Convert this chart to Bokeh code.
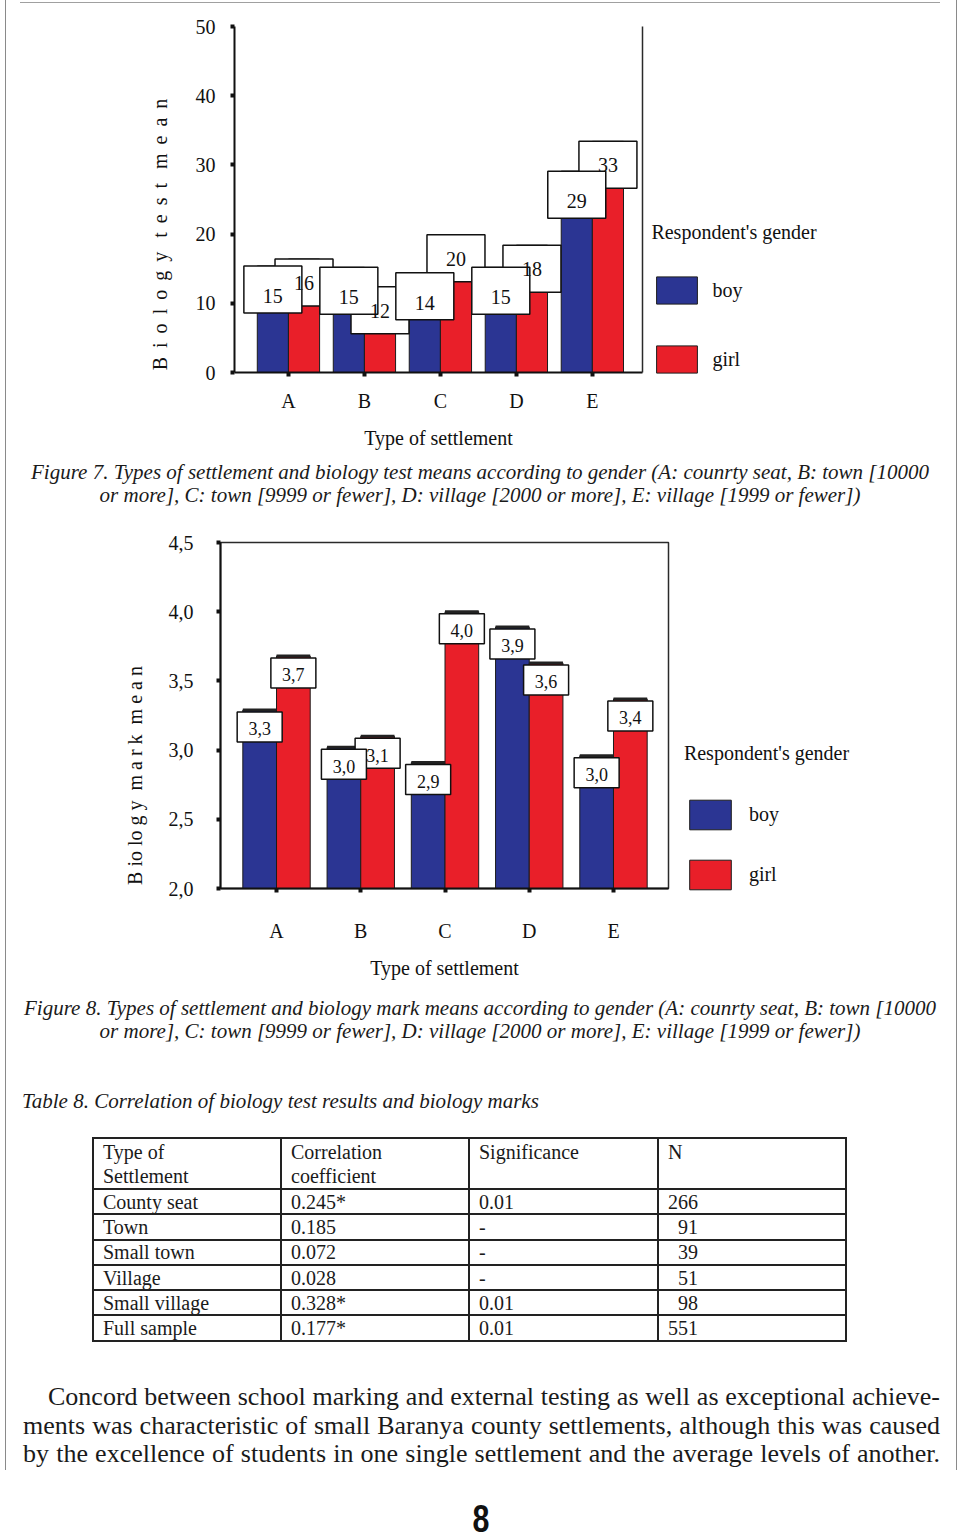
import numpy as np
from bokeh.plotting import figure
from bokeh.models import (Range1d, FixedTicker, CustomJSTickFormatter, LinearAxis,
                          Legend, LegendItem, Div, GlobalInlineStyleSheet)
from bokeh.embed import file_html
from bokeh.resources import INLINE
from bokeh.core.properties import value

# ---------------- data ----------------
categories = ["A", "B", "C", "D", "E"]
test_boy = [15.4, 15.2, 14.4, 15.2, 29.1]
test_girl = [16.4, 12.4, 19.9, 18.4, 33.4]
test_ticks = [0, 10, 20, 30, 40, 50]
mark_boy = [3.29, 3.02, 2.91, 3.89, 2.96]
mark_girl = [3.68, 3.10, 4.00, 3.63, 3.37]
mark_ticks = [2.0, 2.5, 3.0, 3.5, 4.0, 4.5]
series_names = ["boy", "girl"]

table_header = ["Type of<br>Settlement", "Correlation<br>coefficient", "Significance", "N"]
table_settlement = ["County seat", "Town", "Small town", "Village", "Small village", "Full sample"]
table_corr = ["0.245*", "0.185", "0.072", "0.028", "0.328*", "0.177*"]
table_sig = ["0.01", "-", "-", "-", "0.01", "0.01"]
table_n = [266, 91, 39, 51, 98, 551]

caption7 = ["Figure 7. Types of settlement and biology test means according to gender (A: counrty seat, B: town [10000",
            "or more], C: town [9999 or fewer], D: village [2000 or more], E: village [1999 or fewer])"]
caption8 = ["Figure 8. Types of settlement and biology mark means according to gender (A: counrty seat, B: town [10000",
            "or more], C: town [9999 or fewer], D: village [2000 or more], E: village [1999 or fewer])"]
table_caption = "Table 8. Correlation of biology test results and biology marks"
body_lines = ["Concord between school marking and external testing as well as exceptional achieve-",
              "ments was characteristic of small Baranya county settlements, although this was caused",
              "by the excellence of students in one single settlement and the average levels of another."]
page_number = "8"

# ---------------- style ----------------
BLUE = "#2B3593"
RED = "#E91F29"
EDGE = "#1c1c1c"
SERIF = "Liberation Serif"
NB = "\u00a0"
TS = "\u2009"

page_css = GlobalInlineStyleSheet(css=(
    "body { background: "
    "linear-gradient(#8a8a8a,#8a8a8a) 5px 0px / 1px 1470px no-repeat, "
    "linear-gradient(#8a8a8a,#8a8a8a) 956px 0px / 1px 1470px no-repeat, "
    "linear-gradient(#a0a0a0,#a0a0a0) 20px 2px / 920px 1px no-repeat, #ffffff; }"))


def make_chart(boy, girl, yticks, ylo, yhi, fmt_code, ylabel, *, fw, fh,
               bl, bt, bb, xlo, xhi, barw, box_w, box_h, box_gap, text_dy,
               box_font, cap, outline, legend_dx, legend_loc, glyph_w, glyph_h,
               title_standoff, spacing, label_standoff, tick_std, xlab_std,
               ytick_std, ylab_std, texts_last):
    p = figure(frame_width=fw, frame_height=fh, output_backend="svg", toolbar_location=None,
               x_range=Range1d(xlo, xhi), y_range=Range1d(ylo, yhi),
               min_border_left=bl, min_border_right=0, min_border_top=bt,
               min_border_bottom=bb, background_fill_color="white",
               border_fill_alpha=0)
    p.xgrid.grid_line_color = None
    p.ygrid.grid_line_color = None
    if outline:
        p.outline_line_color = "#2a2a2a"
        p.outline_line_width = 1.5
    else:
        p.outline_line_color = None

    ppx = fw / (xhi - xlo)
    ppy = fh / (yhi - ylo)

    idx = np.arange(len(categories), dtype=float)
    xb = idx - barw / 2
    xg = idx + barw / 2
    rb = p.vbar(x=xb, top=boy, bottom=ylo, width=barw, fill_color=BLUE,
                line_color=EDGE, line_width=1)
    rg = p.vbar(x=xg, top=girl, bottom=ylo, width=barw, fill_color=RED,
                line_color=EDGE, line_width=1)
    if cap:
        for xs, vals in ((xb, boy), (xg, girl)):
            p.segment(x0=xs - barw / 2, x1=xs + barw / 2, y0=vals, y1=vals,
                      line_color="#222222", line_width=3)

    bw = box_w / ppx
    bh = box_h / ppy
    gap = box_gap / ppy
    pending = []
    for (xs, vals), dy in zip(((xg, girl), (xb, boy)), (text_dy[1], text_dy[0])):
        vals = np.asarray(vals, dtype=float)
        tops = vals - gap
        p.quad(left=xs - bw / 2, right=xs + bw / 2, top=tops, bottom=tops - bh,
               fill_color="white", line_color="#111111", line_width=1.5)
        if fmt_code == "int":
            labs = [f"{v:.0f}" for v in vals]
        else:
            labs = [f"{v:.1f}".replace(".", ",") for v in vals]
        args = dict(x=xs, y=tops - dy / ppy, text=labs)
        if texts_last:
            pending.append(args)
        else:
            p.text(text_align="center", text_baseline="middle", text_font=value(SERIF),
                   text_font_size=box_font, text_color="#111111", **args)
    for args in pending:
        p.text(text_align="center", text_baseline="middle", text_font=value(SERIF),
               text_font_size=box_font, text_color="#111111", **args)

    # axes
    xa = p.xaxis[0]
    xa.ticker = FixedTicker(ticks=list(range(len(categories))))
    xa.formatter = CustomJSTickFormatter(args=dict(cats=categories),
                                         code="return cats[Math.round(tick)] || ''")
    ya = p.yaxis[0]
    ya.ticker = FixedTicker(ticks=yticks)
    if fmt_code == "int":
        ya.formatter = CustomJSTickFormatter(code="return tick.toFixed(0)")
    else:
        ya.formatter = CustomJSTickFormatter(code="return tick.toFixed(1).replace('.', ',')")
    for ax in (xa, ya):
        ax.axis_line_width = 2
        ax.axis_line_color = "#111111"
        ax.major_tick_in = 0
        ax.major_tick_out = 4
        ax.major_tick_line_width = 4
        ax.major_tick_line_color = "#111111"
        ax.minor_tick_line_color = None
        ax.major_label_text_font = SERIF
        ax.major_label_text_font_size = "20px"
        ax.major_label_text_color = "#111111"
        ax.axis_label_text_font = SERIF
        ax.axis_label_text_font_size = "20px"
        ax.axis_label_text_font_style = "normal"
        ax.axis_label_text_color = "#111111"
    xa.axis_label = "Type of settlement"
    xa.major_label_standoff = tick_std
    xa.axis_label_standoff = xlab_std
    ya.axis_label = ylabel
    ya.major_label_standoff = ytick_std
    ya.axis_label_standoff = ylab_std

    ra = LinearAxis(ticker=FixedTicker(ticks=[]), major_label_text_font_size="0px",
                    major_label_standoff=0,
                    major_tick_line_color=None, minor_tick_line_color=None,
                    major_tick_in=0, major_tick_out=legend_dx,
                    axis_line_width=1.5,
                    axis_line_color=None if outline else "#2a2a2a")
    p.add_layout(ra, "right")

    legend = Legend(items=[LegendItem(label=series_names[0], renderers=[rb]),
                           LegendItem(label=series_names[1], renderers=[rg])],
                    title="Respondent's gender", location=legend_loc,
                    title_text_font=SERIF, title_text_font_size="20px",
                    title_text_font_style="normal", title_text_color="#111111",
                    title_standoff=title_standoff,
                    label_text_font=SERIF, label_text_font_size="20px",
                    label_text_color="#111111",
                    glyph_width=glyph_w, glyph_height=glyph_h,
                    label_standoff=label_standoff, spacing=spacing,
                    label_height=glyph_h,
                    padding=0, margin=0, border_line_color=None,
                    background_fill_alpha=0)
    p.add_layout(legend, "right")
    return p


def spaced(word, sep):
    return sep.join(word)


gap1 = NB + TS
ylabel1 = (spaced("Biology", gap1) + NB * 2 + TS + spaced("test", gap1) + NB * 2 + TS
           + spaced("mean", gap1) + NB * 14)
ylabel2 = "B" + NB + "io" + NB + "lo" + NB + "g" + NB + "y" + NB * 2 + spaced("mark", NB) + NB * 2 + spaced("mean", NB) + NB * 24

p1 = make_chart(test_boy, test_girl, test_ticks, 0, 50, "int", ylabel1,
                fw=408, fh=346, bl=234, bt=26, bb=83,
                xlo=-0.71, xhi=4.66, barw=0.41, box_w=58, box_h=47, box_gap=0,
                text_dy=(30, 24), box_font="20px", cap=False, outline=False,
                legend_dx=10, legend_loc=(-178, -4), glyph_w=51, glyph_h=34,
                title_standoff=29, spacing=35, label_standoff=10, tick_std=13,
                xlab_std=12, ytick_std=15, ylab_std=22, texts_last=True)
p1.stylesheets = [page_css]

cap1_html = (f'<div style="width:960px;height:63px;padding-top:6px;box-sizing:border-box;'
             f'text-align:center;font-family:\'{SERIF}\',serif;font-style:italic;'
             f'font-size:21px;line-height:23px;color:#1a1a1a;white-space:nowrap;">'
             + "<br>".join(caption7) + '</div>')
cap1 = Div(text=cap1_html, width=960, height=63, margin=0)

p2 = make_chart(mark_boy, mark_girl, mark_ticks, 2.0, 4.5, "dec", ylabel2,
                fw=448, fh=346, bl=220, bt=24, bb=102,
                xlo=-0.665, xhi=4.653, barw=0.40, box_w=45, box_h=30, box_gap=2,
                text_dy=(17, 17), box_font="18px", cap=True, outline=True,
                legend_dx=16, legend_loc=(-173, -5), glyph_w=52, glyph_h=37,
                title_standoff=31, spacing=23, label_standoff=13, tick_std=27,
                xlab_std=12, ytick_std=23, ylab_std=20, texts_last=False)

# ---------------- table + text ----------------
cell = "border:2px solid #222;padding:0 0 0 9px;text-align:left;overflow:hidden;white-space:nowrap;"
rows_html = "<tr style='height:50px'>" + "".join(
    f"<td style='{cell}vertical-align:top;line-height:24px;padding-top:1px'>{h}</td>" for h in table_header) + "</tr>"
for s, c, g, n in zip(table_settlement, table_corr, table_sig, table_n):
    ntxt = f"{n:>3d}".replace(" ", "\u2007")
    rows_html += "<tr style='height:25.3px'>" + "".join(
        f"<td style='{cell}vertical-align:middle;line-height:22px'>{t}</td>" for t in (s, c, g, ntxt)) + "</tr>"

table_html = (f"<table style='position:absolute;left:92px;top:147px;width:753px;table-layout:fixed;"
              f"border-collapse:collapse;font-size:20px;color:#1a1a1a;background:#fff'>"
              f"<colgroup><col style='width:188px'><col style='width:188px'><col style='width:189px'><col style='width:188px'></colgroup>"
              + rows_html + "</table>")

body_html = ""
for i, line in enumerate(body_lines):
    indent = 25 if i == 0 else 0
    body_html += (f"<div style='position:absolute;left:{23 + indent}px;top:{393 + i * 28.5}px;"
                  f"width:{917 - indent}px;font-size:26px;line-height:28px;white-space:nowrap;"
                  f"text-align:justify;text-align-last:justify;'>{line}</div>")

bottom_html = (
    f"<div style='position:relative;width:960px;height:548px;font-family:\"{SERIF}\",serif;color:#1a1a1a;'>"
    f"<div style='position:absolute;left:0;top:7px;width:960px;text-align:center;font-style:italic;"
    f"font-size:21px;line-height:23px;white-space:nowrap;'>" + "<br>".join(caption8) + "</div>"
    f"<div style='position:absolute;left:22px;top:99px;font-style:italic;font-size:21px;"
    f"line-height:24px;white-space:nowrap;'>{table_caption}</div>"
    + table_html + body_html +
    f"<div style='position:absolute;left:456px;top:512px;width:50px;text-align:center;"
    f"font-family:\"Liberation Sans Narrow\",\"Liberation Sans\",sans-serif;font-weight:bold;"
    f"font-size:38px;line-height:34px;color:#111;transform:scaleX(0.8);'>{page_number}</div>"
    "</div>")
bottom = Div(text=bottom_html, width=960, height=548, margin=0)

open("out.html", "w").write(file_html([p1, cap1, p2, bottom], INLINE))
